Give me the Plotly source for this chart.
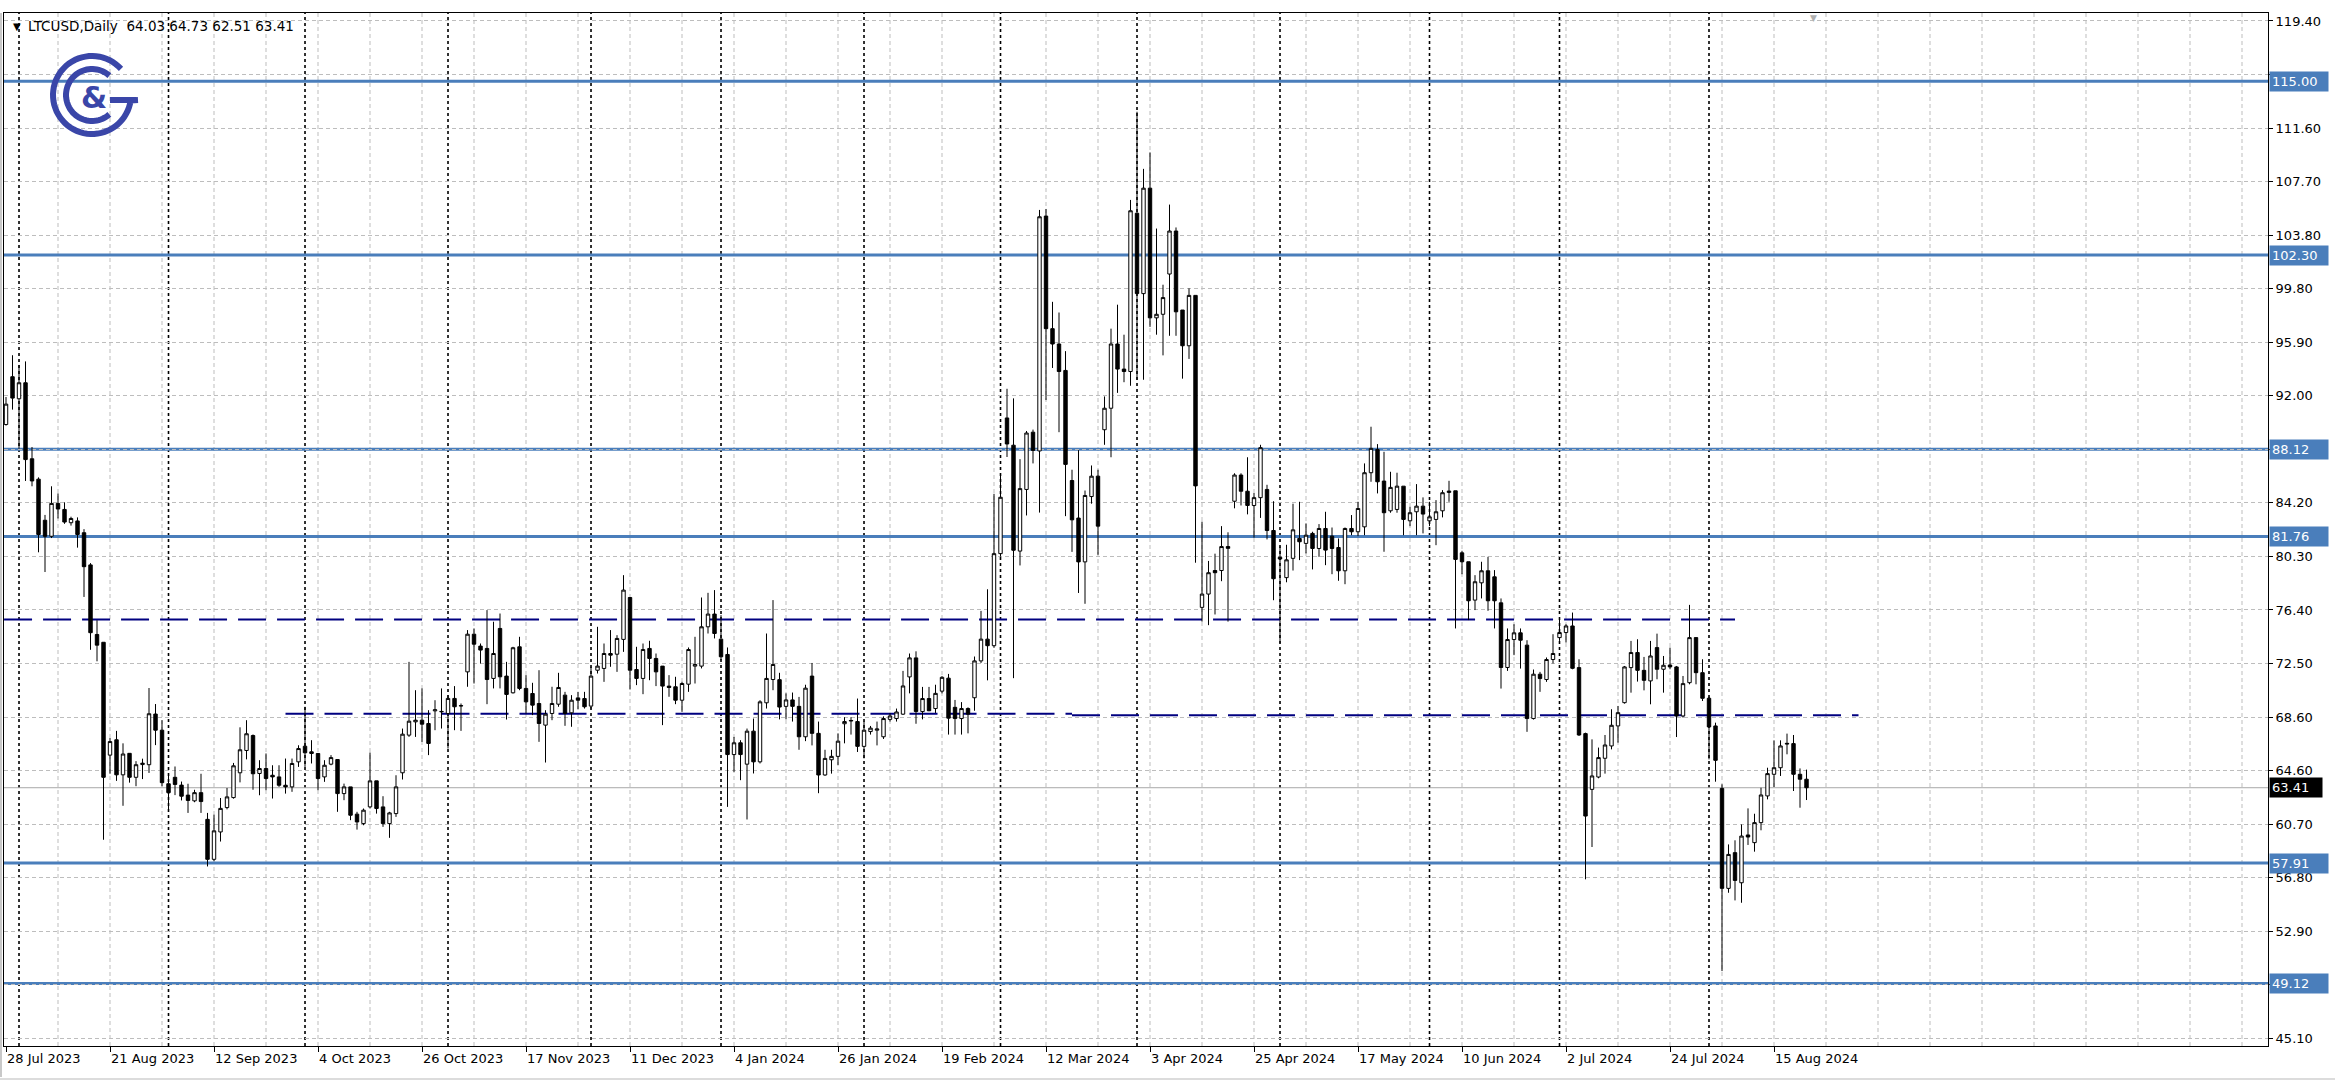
import plotly.graph_objects as go
import numpy as np

# ---------------- data (LTCUSD daily, weekdays) ----------------
open_ = [89.93,93.42,91.81,92.98,87.43,85.94,82.94,81.77,84.17,83.73,
         82.76,82.89,82.03,79.68,74.60,74.03,65.79,66.91,64.35,65.92,
         64.17,65.10,65.09,68.79,67.61,63.70,64.17,63.60,62.87,62.45,
         63.05,61.10,58.18,60.18,61.96,62.69,64.50,66.13,67.22,64.45,
         64.81,64.32,64.20,63.59,63.47,65.30,66.44,66.03,65.91,64.20,
         65.13,65.47,62.98,63.47,61.48,60.79,62.01,63.91,62.01,60.79,
         61.52,64.50,67.25,68.22,68.34,68.10,69.02,68.95,68.83,69.93,
         69.38,71.87,74.62,73.75,73.58,71.39,75.04,71.56,70.34,73.70,
         70.66,70.29,69.56,67.98,68.83,69.51,70.17,68.88,69.97,69.92,
         69.37,71.99,72.12,73.21,73.16,74.24,77.30,72.04,71.39,73.58,
         72.85,72.29,70.83,70.78,69.80,70.97,72.29,72.29,75.16,76.09,
         74.26,73.14,65.83,66.69,65.13,67.54,65.30,69.61,71.31,71.30,
         69.35,69.82,69.35,67.13,71.56,67.38,64.34,65.45,65.70,68.08,
         68.28,68.24,66.43,67.51,67.61,67.13,68.40,68.46,68.78,71.50,
         72.89,68.97,69.92,69.19,70.46,71.41,69.28,68.46,69.19,69.98,
         72.67,74.26,73.78,80.50,90.41,88.42,80.69,85.19,89.37,88.00,
         105.15,96.93,95.81,93.88,85.84,83.10,79.90,84.67,86.16,89.55,
         91.12,95.81,93.98,93.80,105.36,99.49,107.19,97.72,97.98,100.92,
         104.06,98.29,95.68,99.36,76.58,77.55,79.27,79.27,81.02,84.33,
         86.24,85.06,84.02,84.59,85.19,82.19,80.24,78.75,80.16,81.61,
         81.25,81.98,80.88,82.34,81.78,80.95,79.25,82.34,82.10,82.46,
         86.41,88.11,85.80,83.63,83.73,85.43,82.90,83.56,83.97,82.90,
         83.00,83.63,84.97,85.09,80.56,79.91,77.11,78.37,79.25,78.81,
         76.91,72.19,74.23,74.72,73.82,68.46,71.70,71.31,72.77,74.37,
         74.74,75.22,72.18,67.36,63.29,64.19,65.56,66.46,67.92,69.62,
         72.18,73.28,71.98,71.21,73.64,72.06,72.37,72.23,68.65,71.08,
         74.37,71.81,69.94,67.92,63.36,56.06,58.67,56.47,59.96,59.40,
         60.86,62.81,64.39,64.87,66.65,66.63,64.39,64.03]
high = [91.94,94.99,94.28,94.54,88.29,86.07,83.33,85.42,84.90,84.25,
        83.20,83.15,82.29,79.81,75.64,74.03,67.04,67.56,66.65,65.92,
        65.35,65.53,70.69,69.52,68.34,64.43,64.96,63.86,63.70,63.26,
        64.43,61.57,61.44,62.66,63.39,65.22,67.82,68.34,67.30,65.42,
        65.91,65.05,65.05,65.54,65.54,66.51,69.32,66.88,65.91,65.42,
        65.79,65.47,63.71,63.47,61.65,61.89,65.98,63.91,62.79,61.65,
        64.32,67.73,72.60,70.53,70.66,69.07,69.80,70.66,70.17,70.83,
        69.56,74.92,75.04,73.94,76.38,75.53,76.13,72.60,73.70,74.43,
        71.63,71.07,71.99,69.07,70.78,71.80,70.41,70.17,70.41,70.41,
        72.24,75.16,73.94,74.92,74.55,78.93,77.30,73.70,73.94,74.14,
        73.21,72.29,71.63,71.51,71.14,73.65,74.43,77.30,77.64,77.84,
        76.01,73.65,67.12,66.88,67.73,68.46,69.80,74.67,77.11,71.80,
        70.30,70.36,70.04,70.93,72.52,68.24,66.18,66.18,67.38,68.56,
        68.56,69.92,68.24,67.92,68.24,68.62,68.87,69.19,71.94,73.21,
        73.37,70.77,70.77,70.93,71.56,71.72,69.82,69.66,69.28,72.99,
        76.32,77.90,84.87,86.39,92.54,91.84,87.40,89.46,89.56,105.60,
        105.67,98.89,98.11,95.29,86.63,88.06,85.11,86.94,86.63,91.98,
        96.93,98.68,96.49,106.33,112.77,108.60,109.80,104.24,100.14,105.99,
        104.32,98.29,99.88,99.36,82.84,79.97,80.50,82.51,82.06,86.37,
        86.37,87.54,84.93,88.45,85.53,84.33,81.02,81.15,84.15,84.29,
        82.71,82.10,82.66,83.56,82.41,81.61,82.41,83.32,84.29,87.09,
        89.77,88.50,87.94,86.48,86.41,85.43,83.92,85.58,84.61,84.29,
        84.41,85.14,85.82,85.09,80.71,79.91,78.93,79.91,80.27,79.30,
        77.23,75.04,75.35,75.04,74.18,72.04,71.87,72.92,74.62,75.70,
        75.35,76.20,72.79,67.43,66.94,66.34,67.26,69.14,69.38,72.30,
        74.13,74.25,72.96,74.13,74.66,73.03,73.64,72.30,71.57,76.76,
        74.37,72.79,70.04,68.16,63.66,59.27,59.57,60.73,61.90,61.51,
        63.41,64.87,66.87,66.87,67.36,67.26,64.82,64.73]
low = [89.85,91.02,88.16,85.81,85.42,80.60,79.16,81.64,83.07,82.68,
       82.55,80.94,77.34,73.48,72.64,59.61,64.43,63.91,62.09,63.78,
       63.52,64.04,64.49,66.52,63.52,61.83,62.87,62.48,61.57,62.35,
       61.57,57.66,58.05,59.48,61.83,62.61,63.80,65.48,63.26,62.86,
       63.23,62.62,63.47,62.98,63.11,64.93,64.93,65.18,63.23,63.84,
       65.05,61.65,62.50,61.04,60.35,60.67,61.89,61.52,60.55,59.75,
       61.28,64.01,67.12,67.12,66.76,65.79,67.61,67.73,66.27,67.61,
       67.56,70.78,71.02,72.48,69.51,70.66,70.66,68.39,70.29,70.53,
       68.83,68.71,66.76,65.25,68.34,69.32,67.93,67.86,69.15,69.19,
       69.19,71.75,71.14,72.24,71.87,73.33,70.58,70.90,70.24,71.26,
       70.83,67.98,70.05,69.51,68.95,70.41,71.02,72.12,74.67,74.31,
       72.72,62.01,64.57,63.96,61.09,64.45,65.18,69.19,70.53,68.40,
       68.40,68.24,66.18,66.81,66.50,63.01,64.28,64.44,65.07,66.65,
       67.29,66.02,65.55,67.29,66.50,66.97,68.24,68.24,68.72,70.30,
       68.08,68.40,69.00,68.87,70.30,67.29,67.29,67.29,67.38,69.03,
       72.52,71.25,73.62,80.28,87.56,71.41,79.64,83.29,87.09,83.50,
       91.72,94.06,89.37,83.24,80.63,77.63,76.84,84.15,80.42,88.45,
       87.54,92.24,93.02,92.76,93.20,93.20,97.06,96.49,94.98,96.41,
       96.41,93.28,94.72,79.84,75.54,75.28,76.06,78.49,75.54,83.81,
       84.02,83.37,81.67,83.11,81.54,77.10,73.97,78.41,79.27,80.03,
       80.52,79.35,80.27,79.66,79.00,78.52,78.27,81.85,81.78,81.85,
       85.75,84.90,80.64,83.49,83.49,81.85,82.51,81.85,81.98,82.51,
       81.12,83.15,84.29,75.04,79.00,75.65,76.38,77.23,76.33,75.04,
       70.65,71.94,73.09,72.11,67.49,68.39,70.41,71.14,72.48,74.13,
       74.01,72.06,67.19,56.72,59.08,64.10,64.44,66.21,66.70,69.55,
       70.35,71.16,70.52,69.50,71.33,70.35,72.06,67.11,68.53,70.96,
       70.96,69.74,65.48,63.85,50.02,55.74,55.18,55.01,59.23,58.74,
       60.30,62.56,63.46,64.27,65.85,63.17,61.95,62.51]
close = [91.42,91.86,92.98,87.37,85.81,81.90,81.77,84.17,83.76,82.81,
         83.07,81.90,79.55,74.73,73.82,64.17,66.78,64.35,65.87,64.17,
         65.09,65.20,68.81,67.61,63.78,63.05,63.65,62.79,62.48,63.05,
         62.40,58.18,60.26,61.90,62.74,65.01,66.18,67.35,64.43,64.81,
         64.08,64.20,63.59,63.47,65.18,66.27,65.96,65.91,64.08,65.05,
         65.61,62.98,63.47,61.40,60.91,61.77,63.91,61.89,60.79,61.57,
         63.47,67.32,68.27,68.34,68.05,66.64,69.10,68.98,69.93,69.32,
         69.40,74.62,73.89,73.46,71.31,73.21,71.51,70.22,73.63,70.66,
         69.68,69.44,68.10,68.78,69.56,70.73,68.83,69.80,69.80,69.32,
         71.56,72.29,73.21,73.09,74.31,77.84,71.99,71.39,73.50,72.85,
         71.87,70.83,70.73,69.80,71.02,73.50,72.41,75.16,76.09,74.67,
         72.97,65.83,66.69,65.83,67.54,65.30,69.68,71.39,72.41,69.30,
         69.82,69.35,67.13,70.68,67.38,64.34,65.55,65.70,66.81,68.24,
         68.32,66.43,67.61,67.76,67.70,68.46,68.65,68.94,70.84,72.89,
         68.97,69.92,69.03,70.30,71.47,68.49,68.46,69.19,68.78,72.67,
         74.26,73.78,80.50,84.62,88.51,80.75,85.25,89.31,88.04,105.10,
         96.93,95.81,93.80,87.02,82.97,79.90,84.75,86.16,82.51,91.12,
         95.81,93.98,93.80,105.54,99.49,107.19,97.72,97.98,99.20,104.06,
         98.16,95.68,99.36,85.45,77.55,79.11,79.11,81.02,80.89,86.24,
         85.06,84.02,84.59,88.24,82.19,78.67,80.11,80.05,82.24,81.37,
         81.85,80.88,82.34,80.76,80.88,79.25,82.34,82.10,83.80,86.41,
         88.19,85.75,83.49,85.34,85.43,83.00,83.49,83.97,83.39,83.19,
         83.56,84.95,85.07,80.08,79.91,77.06,78.45,79.25,77.06,77.06,
         72.19,74.23,74.72,74.18,68.46,71.70,71.38,72.77,73.21,74.74,
         75.22,72.13,67.26,61.34,64.27,65.61,66.53,67.97,68.89,72.23,
         73.28,71.98,71.25,73.03,72.06,72.35,72.23,68.65,71.01,74.37,
         71.81,69.94,67.85,65.41,56.06,58.54,56.64,59.88,59.81,60.86,
         62.88,64.44,64.87,66.46,66.61,64.39,64.03,63.41]
bars = list(range(len(close)))

date_tick_bars = [0, 16, 32, 48, 64, 80, 96, 112, 128, 144, 160, 176, 192, 208, 224, 240, 256, 272]
date_tick_labels = ["28 Jul 2023", "21 Aug 2023", "12 Sep 2023", "4 Oct 2023", "26 Oct 2023",
                    "17 Nov 2023", "11 Dec 2023", "4 Jan 2024", "26 Jan 2024", "19 Feb 2024",
                    "12 Mar 2024", "3 Apr 2024", "25 Apr 2024", "17 May 2024", "10 Jun 2024",
                    "2 Jul 2024", "24 Jul 2024", "15 Aug 2024"]
month_start_bars = [2, 25, 46, 68, 90, 110, 132, 153, 174, 196, 219, 239, 262]

# grid values of the price scale; labels hidden behind level boxes are left blank
price_tick_vals = [119.40, 115.49, 111.58, 107.67, 103.76, 99.85, 95.94, 92.03, 88.12, 84.21,
                   80.30, 76.39, 72.48, 68.57, 64.66, 60.75, 56.84, 52.93, 49.01, 45.10]
price_tick_text = ["119.40", "", "111.60", "107.70", "103.80", "99.80", "95.90", "92.00", "", "84.20",
                   "80.30", "76.40", "72.50", "68.60", "64.60", "60.70", "56.80", "52.90", "", "45.10"]

level_prices = [115.00, 102.30, 88.12, 81.76, 57.91, 49.12]
# dashed level segments: (bar_start, bar_end, price)
dashed_segments = [(-0.3, 266, 75.70), (43, 164, 68.82), (164, 285, 68.70)]
grid_step_bars = 8

# ---------------- layout constants ----------------
W, H = 2335, 1089
ML, MR, MT, MB = 4, 67, 13, 43
X_RANGE = [-0.31, 348.0]
Y_RANGE = [44.55, 119.98]

FONT = "DejaVu Sans, Verdana, sans-serif"
BLUE = "#4A7EBB"
NAVY = "#000080"
LOGO = "#3A46A8"

fig = go.Figure()
fig.add_trace(go.Candlestick(
    x=bars, open=open_, high=high, low=low, close=close,
    increasing=dict(line=dict(color="black", width=1), fillcolor="white"),
    decreasing=dict(line=dict(color="black", width=1), fillcolor="black"),
    whiskerwidth=0, hoverinfo="skip", showlegend=False,
))

shapes = []
# vertical gray dashed grid
for gx in range(grid_step_bars, int(X_RANGE[1]) + 1, grid_step_bars):
    shapes.append(dict(type="line", xref="x", yref="paper", x0=gx, x1=gx, y0=0, y1=1,
                       line=dict(color="#bdbdbd", width=1, dash="4px,3px"), layer="below"))
# month separators
for mb in month_start_bars:
    shapes.append(dict(type="line", xref="x", yref="paper", x0=mb, x1=mb, y0=0, y1=1,
                       line=dict(color="black", width=1.6, dash="3px,3px"), layer="below"))
# solid blue levels
for lp in level_prices:
    shapes.append(dict(type="line", xref="paper", yref="y", x0=0, x1=1, y0=lp, y1=lp,
                       line=dict(color=BLUE, width=3), layer="below"))
# navy dashed lines
for x0, x1, p in dashed_segments:
    shapes.append(dict(type="line", xref="x", yref="y", x0=x0, x1=x1, y0=p, y1=p,
                       line=dict(color=NAVY, width=2, dash="28px,11px"), layer="below"))
# last price line
shapes.append(dict(type="line", xref="paper", yref="y", x0=0, x1=1, y0=close[-1], y1=close[-1],
                   line=dict(color="#a8a8a8", width=1), layer="below"))
# window borders
shapes.append(dict(type="line", xref="paper", yref="paper", xsizemode="pixel", xanchor=0,
                   x0=-3, x1=-3, y0=-0.03, y1=1.0, line=dict(color="#c8c8c8", width=2)))
shapes.append(dict(type="line", xref="paper", yref="paper", ysizemode="pixel", yanchor=0,
                   y0=-33, y1=-33, x0=-0.002, x1=1.03, line=dict(color="#dcdcdc", width=2)))


# logo (pixel coordinates relative to plot top-left, y up)
def arc(cx, cy, r, a0, a1, n=60):
    t = np.radians(np.linspace(a0, a1, n))
    xs = cx + r * np.cos(t)
    ys = -cy + r * np.sin(t)
    return "M " + " L ".join(f"{x:.1f},{y:.1f}" for x, y in zip(xs, ys))


lcx, lcy = 88, 82
logo_paths = [
    arc(lcx, lcy, 39, 42, 352) + f" L {lcx + 46},{-lcy - 5:.1f} M {lcx + 44},{-lcy - 5:.1f} L {lcx + 18},{-lcy - 5:.1f}",
    arc(lcx, lcy, 26, 48, 312),
]
for pth in logo_paths:
    shapes.append(dict(type="path", xref="paper", yref="paper", xsizemode="pixel", ysizemode="pixel",
                       xanchor=0, yanchor=1, path=pth, line=dict(color=LOGO, width=6)))

annotations = []
annotations.append(dict(xref="paper", yref="paper", x=0, y=1, xanchor="center", yanchor="middle",
                        xshift=lcx + 2, yshift=-lcy - 2, text="<b>&amp;</b>", showarrow=False,
                        font=dict(family="DejaVu Sans", size=30, color=LOGO)))
# header
annotations.append(dict(xref="paper", yref="paper", x=0, y=1, xanchor="left", yanchor="middle",
                        xshift=7, yshift=-13, text="▼", showarrow=False,
                        font=dict(family=FONT, size=10, color="black")))
annotations.append(dict(xref="paper", yref="paper", x=0, y=1, xanchor="left", yanchor="middle",
                        xshift=22, yshift=-13,
                        text=f"LTCUSD,Daily  {open_[-1]:.2f} {high[-1]:.2f} {low[-1]:.2f} {close[-1]:.2f}",
                        showarrow=False, font=dict(family=FONT, size=13.5, color="black")))
# chart shift marker
annotations.append(dict(xref="x", yref="paper", x=len(close), y=1, xanchor="center", yanchor="top",
                        yshift=2, text="▼", showarrow=False, font=dict(size=9, color="#b0b0b0")))
# level labels
for lp in level_prices:
    annotations.append(dict(xref="paper", yref="y", x=1, y=lp, xanchor="left", yanchor="middle",
                            xshift=1, text=f"{lp:.2f}", showarrow=False, bgcolor=BLUE,
                            borderpad=2, width=54, align="left",
                            font=dict(family=FONT, size=13, color="white")))
annotations.append(dict(xref="paper", yref="y", x=1, y=close[-1], xanchor="left", yanchor="middle",
                        xshift=1, text=f"{close[-1]:.2f}", showarrow=False, bgcolor="black",
                        borderpad=2, width=48, align="left",
                        font=dict(family=FONT, size=13, color="white")))

fig.update_layout(
    width=W, height=H, margin=dict(l=ML, r=MR, t=MT, b=MB, pad=0),
    paper_bgcolor="white", plot_bgcolor="white",
    shapes=shapes, annotations=annotations, showlegend=False,
    boxgap=0.25, boxgroupgap=0.3,
    font=dict(family=FONT, size=13, color="black"),
    xaxis=dict(range=X_RANGE, rangeslider=dict(visible=False), showgrid=False, zeroline=False,
               tickmode="array", tickvals=date_tick_bars, ticktext=date_tick_labels,
               ticks="outside", ticklen=5, tickcolor="black", tickwidth=1,
               ticklabelposition="outside right",
               showline=True, linecolor="black", linewidth=1, mirror=True,
               tickfont=dict(family=FONT, size=13, color="black")),
    yaxis=dict(range=Y_RANGE, side="right", showgrid=True, gridcolor="#bdbdbd", griddash="4px,3px",
               gridwidth=1, zeroline=False, tickmode="array", tickvals=price_tick_vals,
               ticktext=price_tick_text, ticks="outside", ticklen=4, tickcolor="black",
               showline=True, linecolor="black", linewidth=1, mirror=True,
               tickfont=dict(family=FONT, size=13, color="black")),
)

fig.write_html("out.html", config={"displayModeBar": False},
               post_script="document.body.style.margin='0';document.body.style.overflow='hidden';")
